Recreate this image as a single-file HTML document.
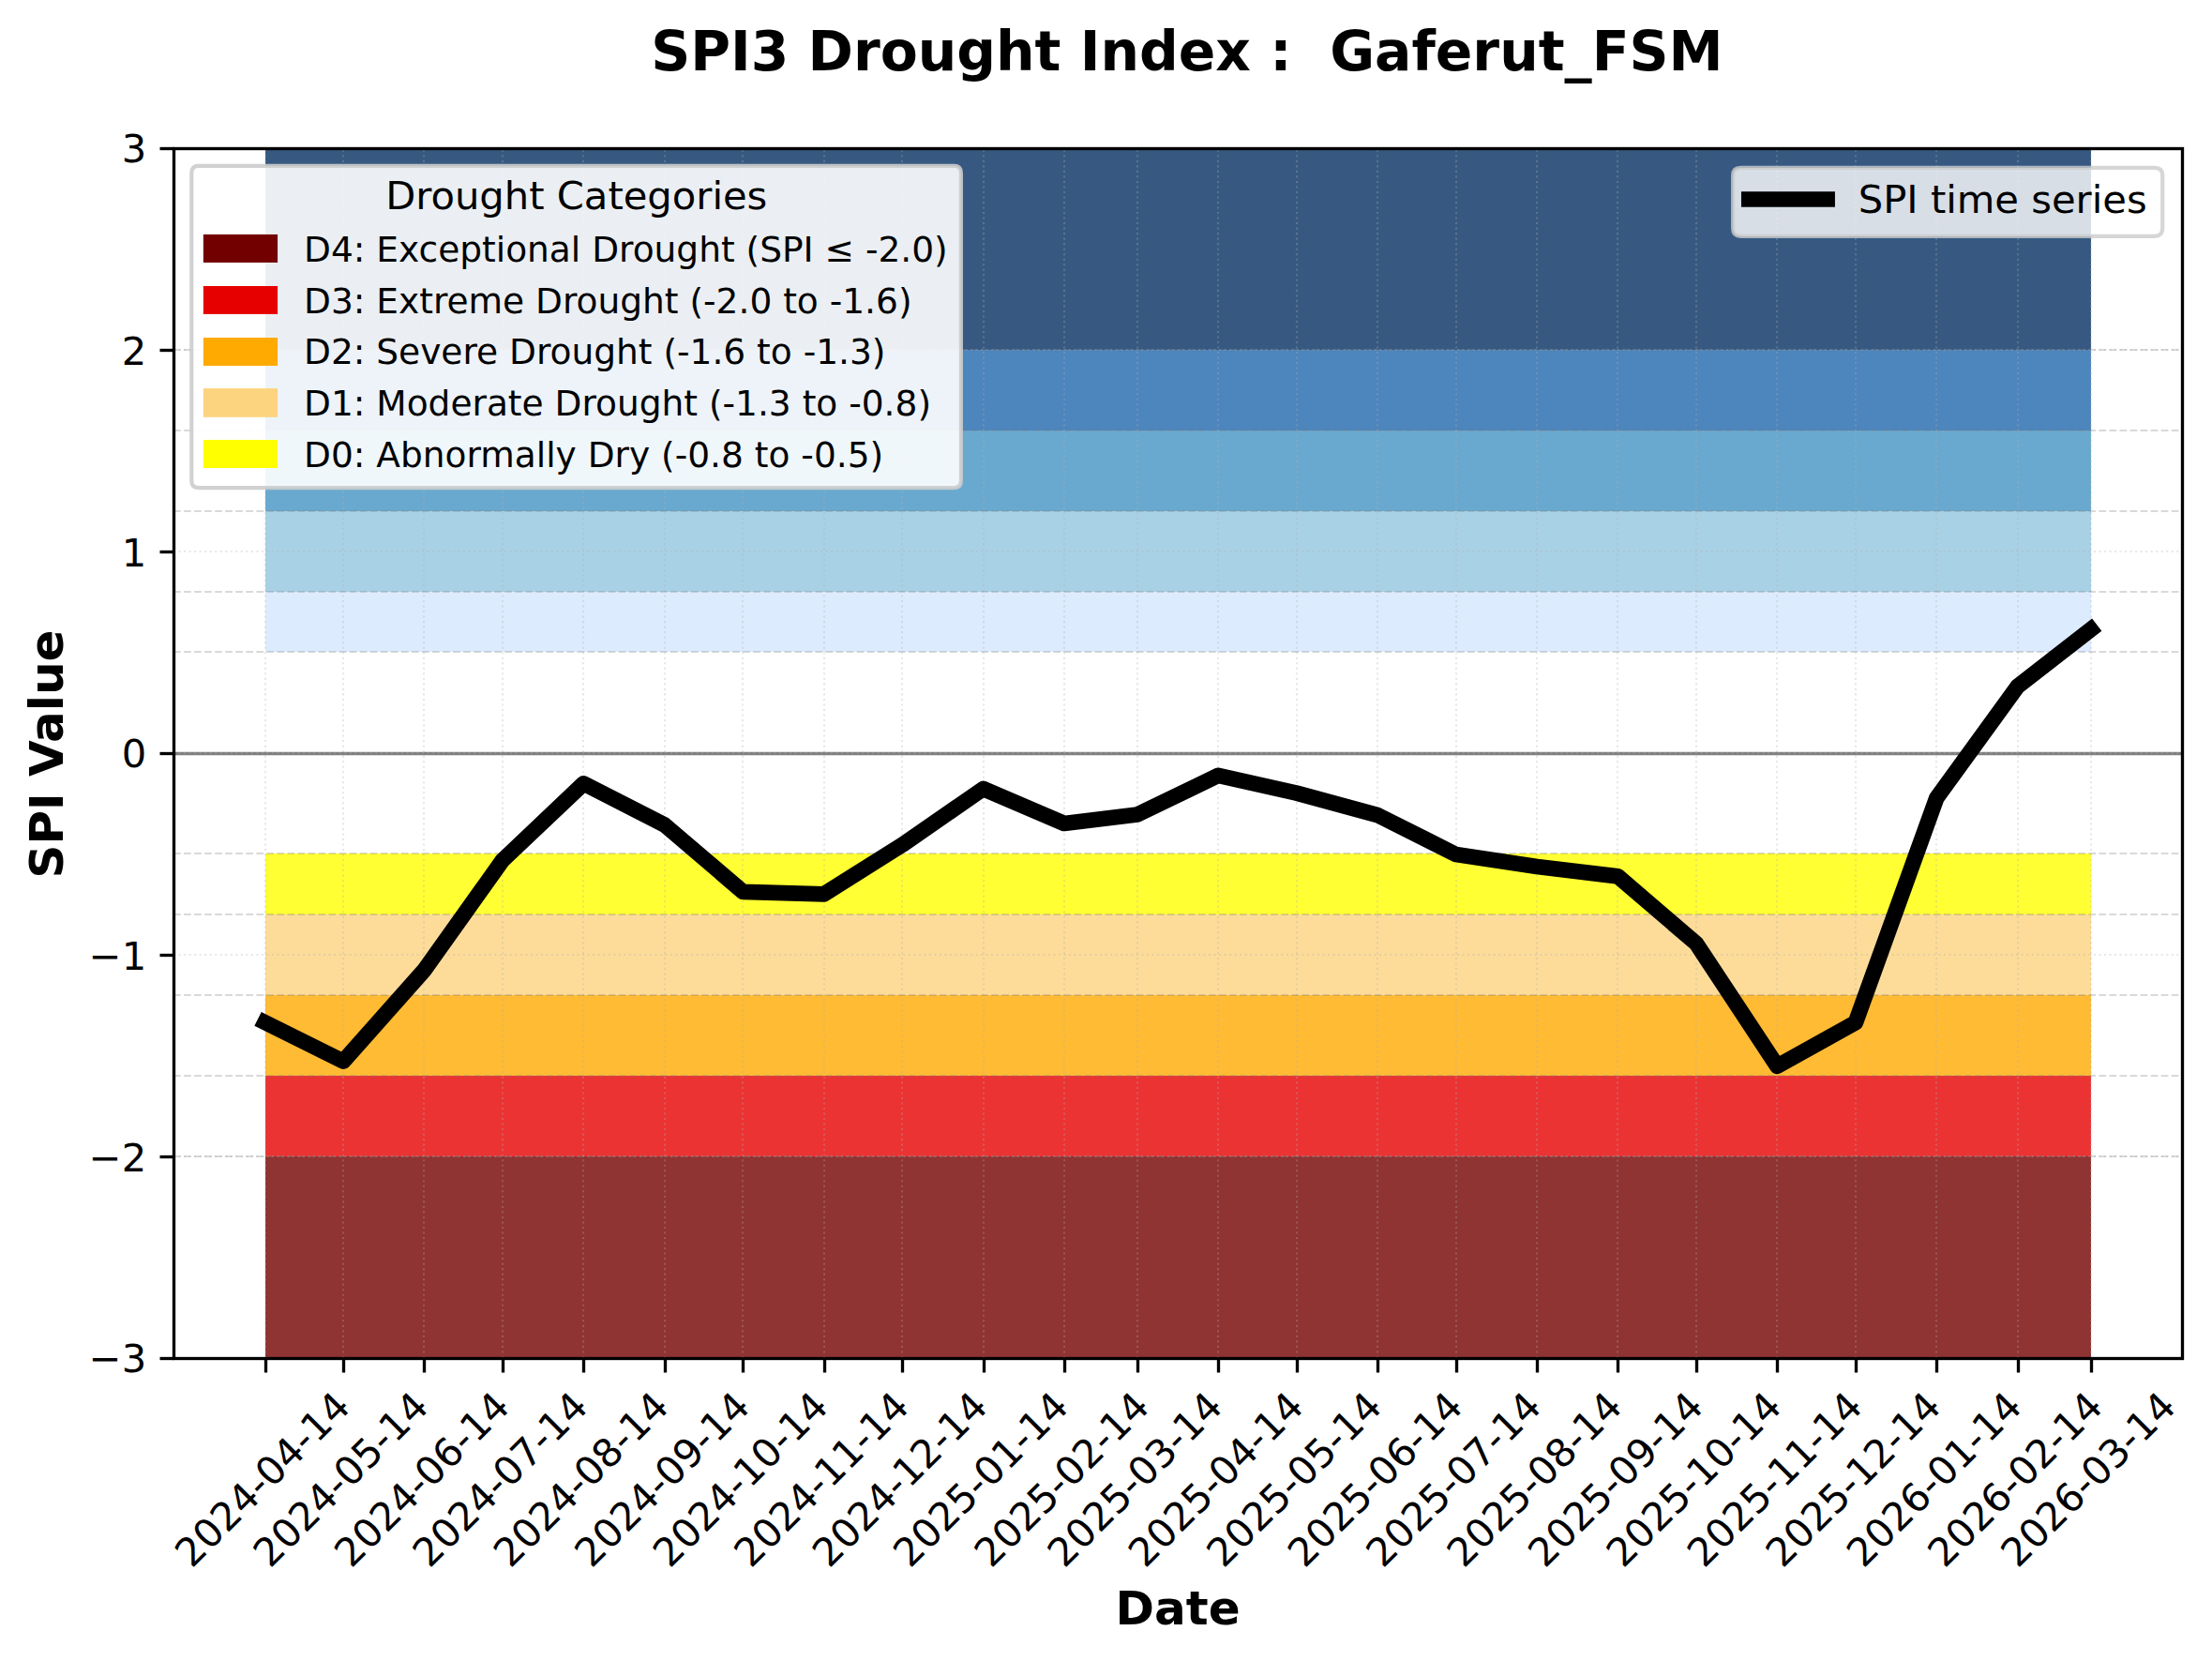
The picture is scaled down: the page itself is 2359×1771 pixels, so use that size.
<!DOCTYPE html>
<html lang="en">
<head>
<meta charset="utf-8">
<title>SPI3 Drought Index : Gaferut_FSM</title>
<style>html,body{margin:0;padding:0;background:#fff}svg{display:block}</style>
</head>
<body>
<svg width="2359" height="1771" viewBox="0 0 2359 1771" font-family='"DejaVu Sans","Liberation Sans",sans-serif'>
<rect width="2359" height="1771" fill="#fff"/>
<defs><clipPath id="ax"><rect x="185.17" y="157.76" width="2141.83" height="1290.24"/></clipPath></defs>
<g clip-path="url(#ax)">
<g fill-opacity="0.8">
<rect x="283" y="1233" width="1947" height="215" fill="#730000"/>
<rect x="283" y="1147" width="1947" height="86" fill="#E60000"/>
<rect x="283" y="1061" width="1947" height="86" fill="#FFAA00"/>
<rect x="283" y="975" width="1947" height="86" fill="#FCD37F"/>
<rect x="283" y="910" width="1947" height="65" fill="#FFFF00"/>
<rect x="283" y="631" width="1947" height="64" fill="#D4E6FF"/>
<rect x="283" y="545" width="1947" height="86" fill="#92C5DE"/>
<rect x="283" y="459" width="1947" height="86" fill="#4393C3"/>
<rect x="283" y="373" width="1947" height="86" fill="#2166AC"/>
<rect x="283" y="158" width="1947" height="215" fill="#053061"/>
</g>
<path d="M185.17 803.5H2327" stroke="#000" stroke-opacity="0.5" stroke-width="3.33" fill="none"/>
<g stroke="#b0b0b0" stroke-opacity="0.3" stroke-width="2.08" stroke-dasharray="2.08 3.44" fill="none">
<path d="M283 1448V157.76"/>
<path d="M366 1448V157.76"/>
<path d="M452 1448V157.76"/>
<path d="M536 1448V157.76"/>
<path d="M622 1448V157.76"/>
<path d="M709 1448V157.76"/>
<path d="M792 1448V157.76"/>
<path d="M879 1448V157.76"/>
<path d="M962 1448V157.76"/>
<path d="M1049 1448V157.76"/>
<path d="M1135 1448V157.76"/>
<path d="M1213 1448V157.76"/>
<path d="M1299 1448V157.76"/>
<path d="M1383 1448V157.76"/>
<path d="M1469 1448V157.76"/>
<path d="M1553 1448V157.76"/>
<path d="M1639 1448V157.76"/>
<path d="M1725 1448V157.76"/>
<path d="M1809 1448V157.76"/>
<path d="M1895 1448V157.76"/>
<path d="M1979 1448V157.76"/>
<path d="M2065 1448V157.76"/>
<path d="M2152 1448V157.76"/>
<path d="M2230 1448V157.76"/>
<path d="M185 1448H2327"/>
<path d="M185 1233H2327"/>
<path d="M185 1018H2327"/>
<path d="M185 803H2327"/>
<path d="M185 588H2327"/>
<path d="M185 373H2327"/>
<path d="M185 158H2327"/>
</g>
<g stroke="#808080" stroke-opacity="0.3" stroke-width="2.08" stroke-dasharray="7.71 3.33" fill="none">
<path d="M185 1233H2327"/>
<path d="M185 1147H2327"/>
<path d="M185 1061H2327"/>
<path d="M185 975H2327"/>
<path d="M185 910H2327"/>
<path d="M185 695H2327"/>
<path d="M185 631H2327"/>
<path d="M185 545H2327"/>
<path d="M185 459H2327"/>
<path d="M185 373H2327"/>
</g>
<polyline points="282.53,1090.1 366.09,1131.6 452.45,1034.4 536.01,917.2 622.37,835.4 708.72,879.5 792.29,950.8 878.64,953.4 962.21,900.8 1048.56,841 1134.91,878 1212.91,868.4 1299.26,826.8 1382.83,845.6 1469.18,869.1 1552.75,911.1 1639.1,924 1725.45,934.4 1809.02,1006 1895.37,1136.8 1978.94,1090.2 2065.3,850.9 2151.65,731.9 2229.64,671.2" fill="none" stroke="#000" stroke-width="16.67" stroke-linejoin="round" stroke-linecap="square"/>
</g>
<g stroke="#000" stroke-width="3.33" fill="none">
<path d="M283.5 1448.5v15"/>
<path d="M366.5 1448.5v15"/>
<path d="M452.5 1448.5v15"/>
<path d="M536.5 1448.5v15"/>
<path d="M622.5 1448.5v15"/>
<path d="M709.5 1448.5v15"/>
<path d="M792.5 1448.5v15"/>
<path d="M879.5 1448.5v15"/>
<path d="M962.5 1448.5v15"/>
<path d="M1049.5 1448.5v15"/>
<path d="M1135.5 1448.5v15"/>
<path d="M1213.5 1448.5v15"/>
<path d="M1299.5 1448.5v15"/>
<path d="M1383.5 1448.5v15"/>
<path d="M1469.5 1448.5v15"/>
<path d="M1553.5 1448.5v15"/>
<path d="M1639.5 1448.5v15"/>
<path d="M1725.5 1448.5v15"/>
<path d="M1809.5 1448.5v15"/>
<path d="M1895.5 1448.5v15"/>
<path d="M1979.5 1448.5v15"/>
<path d="M2065.5 1448.5v15"/>
<path d="M2152.5 1448.5v15"/>
<path d="M2230.5 1448.5v15"/>
<path d="M185.5 1448.5h-15"/>
<path d="M185.5 1233.5h-15"/>
<path d="M185.5 1018.5h-15"/>
<path d="M185.5 803.5h-15"/>
<path d="M185.5 588.5h-15"/>
<path d="M185.5 373.5h-15"/>
<path d="M185.5 158.5h-15"/>
<rect x="185.5" y="158.5" width="2142" height="1290" stroke-linejoin="miter"/>
</g>
<g font-size="41.67" fill="#000">
<text transform="translate(204.53 1673.1) rotate(-45)">2024-04-14</text>
<text transform="translate(288.09 1673.1) rotate(-45)">2024-05-14</text>
<text transform="translate(374.45 1673.1) rotate(-45)">2024-06-14</text>
<text transform="translate(458.01 1673.1) rotate(-45)">2024-07-14</text>
<text transform="translate(544.37 1673.1) rotate(-45)">2024-08-14</text>
<text transform="translate(630.72 1673.1) rotate(-45)">2024-09-14</text>
<text transform="translate(714.29 1673.1) rotate(-45)">2024-10-14</text>
<text transform="translate(800.64 1673.1) rotate(-45)">2024-11-14</text>
<text transform="translate(884.21 1673.1) rotate(-45)">2024-12-14</text>
<text transform="translate(970.56 1673.1) rotate(-45)">2025-01-14</text>
<text transform="translate(1056.91 1673.1) rotate(-45)">2025-02-14</text>
<text transform="translate(1134.91 1673.1) rotate(-45)">2025-03-14</text>
<text transform="translate(1221.26 1673.1) rotate(-45)">2025-04-14</text>
<text transform="translate(1304.83 1673.1) rotate(-45)">2025-05-14</text>
<text transform="translate(1391.18 1673.1) rotate(-45)">2025-06-14</text>
<text transform="translate(1474.75 1673.1) rotate(-45)">2025-07-14</text>
<text transform="translate(1561.1 1673.1) rotate(-45)">2025-08-14</text>
<text transform="translate(1647.45 1673.1) rotate(-45)">2025-09-14</text>
<text transform="translate(1731.02 1673.1) rotate(-45)">2025-10-14</text>
<text transform="translate(1817.37 1673.1) rotate(-45)">2025-11-14</text>
<text transform="translate(1900.94 1673.1) rotate(-45)">2025-12-14</text>
<text transform="translate(1987.3 1673.1) rotate(-45)">2026-01-14</text>
<text transform="translate(2073.65 1673.1) rotate(-45)">2026-02-14</text>
<text transform="translate(2151.64 1673.1) rotate(-45)">2026-03-14</text>
</g>
<g font-size="41.67" fill="#000" text-anchor="end">
<text x="156.2" y="1463.17">−3</text>
<text x="156.2" y="1248.53">−2</text>
<text x="156.2" y="1033.69">−1</text>
<text x="156.2" y="817.75">0</text>
<text x="156.2" y="603.61">1</text>
<text x="156.2" y="388.57">2</text>
<text x="156.2" y="172.73">3</text>
</g>
<text x="1256.1" y="1731.9" font-size="50" font-weight="bold" text-anchor="middle">Date</text>
<text transform="translate(67 804.1) rotate(-90)" font-size="50" font-weight="bold" text-anchor="middle">SPI Value</text>
<text x="1265.9" y="74.97" font-size="58.33" font-weight="bold" text-anchor="middle" xml:space="preserve" style="white-space:pre">SPI3 Drought Index :  Gaferut_FSM</text>
<path d="M211.8 520.1H1017.4Q1024.9 520.1 1024.9 512.6V184.4Q1024.9 176.9 1017.4 176.9H211.8Q204.3 176.9 204.3 184.4V512.6Q204.3 520.1 211.8 520.1Z" fill="#fff" stroke="#ccc" stroke-width="4.17" fill-opacity="0.9" stroke-opacity="0.9"/>
<text x="411.2" y="222.97" font-size="41.67">Drought Categories</text>
<g font-size="37.5">
<rect x="216.84" y="249.95" width="79.24" height="30" fill="#730000"/>
<text x="324" y="278.9">D4: Exceptional Drought (SPI ≤ -2.0)</text>
<rect x="216.84" y="305" width="79.24" height="29.9" fill="#E60000"/>
<text x="324" y="334">D3: Extreme Drought (-2.0 to -1.6)</text>
<rect x="216.84" y="360" width="79.24" height="30" fill="#FFAA00"/>
<text x="324" y="388.1">D2: Severe Drought (-1.6 to -1.3)</text>
<rect x="216.84" y="414.1" width="79.24" height="30.7" fill="#FCD37F"/>
<text x="324" y="443.1">D1: Moderate Drought (-1.3 to -0.8)</text>
<rect x="216.84" y="469" width="79.24" height="30" fill="#FFFF00"/>
<text x="324" y="498.2">D0: Abnormally Dry (-0.8 to -0.5)</text>
</g>
<path d="M1856.43 251.9H2297.87Q2306.2 251.9 2306.2 243.57V187.23Q2306.2 178.9 2297.87 178.9H1856.43Q1848.1 178.9 1848.1 187.23V243.57Q1848.1 251.9 1856.43 251.9Z" fill="#fff" stroke="#ccc" stroke-width="4.17" fill-opacity="0.8" stroke-opacity="0.8"/>
<path d="M1865.3 212.47H1948.6" stroke="#000" stroke-width="16.67" stroke-linecap="square" fill="none"/>
<text x="1981.8" y="226.5" font-size="41.67">SPI time series</text>
</svg>
</body>
</html>
